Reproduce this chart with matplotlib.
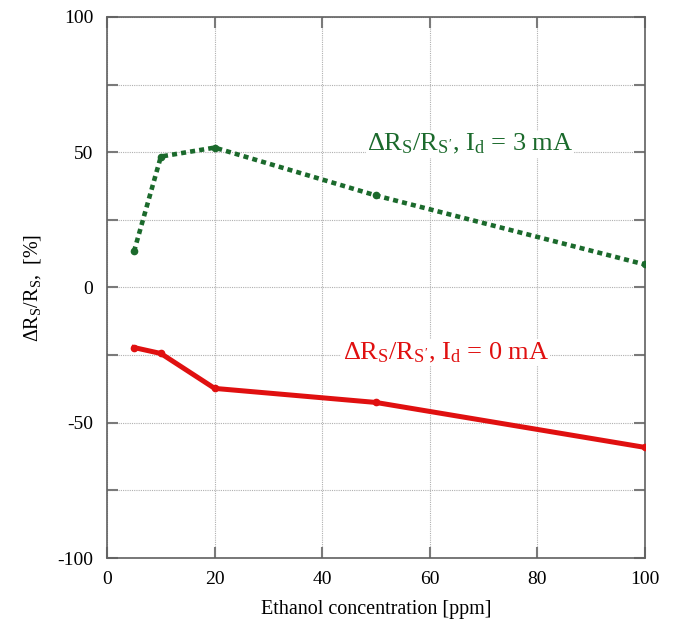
import matplotlib.pyplot as plt
from matplotlib.ticker import FuncFormatter
import numpy as np

# ethanol concentration (ppm) and relative resistance change (%)
conc = [5, 10, 20, 50, 100]
drs_3ma = [13.3, 48.4, 51.7, 34.0, 8.5]
drs_0ma = [-22.2, -24.4, -37.3, -42.5, -59.1]

plt.rcParams['font.family'] = ['Liberation Serif', 'DejaVu Serif']
plt.rcParams['mathtext.fontset'] = 'custom'
plt.rcParams['mathtext.rm'] = 'Liberation Serif'
plt.rcParams['mathtext.it'] = 'Liberation Serif:italic'
plt.rcParams['axes.unicode_minus'] = False

fig = plt.figure(figsize=(6.78, 6.27), dpi=100)
ax = fig.add_axes([0.158, 0.110, 0.793, 0.863])

green = '#1b6a2c'
red = '#e01010'

ax.plot(conc, drs_3ma, color=green, lw=3.3, linestyle=(0, (1.1, 0.9)),
        marker='o', markersize=4.5, zorder=3)
ax.plot(conc, drs_0ma, color=red, lw=3.6, marker='o', markersize=4.5,
        zorder=3)

ax.text(67.5, 53, r"$\Delta$R$_{\mathrm{S}}$/R$_{\mathrm{S'}}$, I$_{\mathrm{d}}$ = 3 mA",
        color=green, fontsize=19, ha='center', va='center',
        bbox=dict(facecolor='white', edgecolor='none', pad=1))
ax.text(63, -24, r"$\Delta$R$_{\mathrm{S}}$/R$_{\mathrm{S'}}$, I$_{\mathrm{d}}$ = 0 mA",
        color=red, fontsize=19, ha='center', va='center',
        bbox=dict(facecolor='white', edgecolor='none', pad=1))

ax.set_xlim(0, 100)
ax.set_ylim(-100, 100)
ax.set_xticks(np.arange(0, 101, 20))
ax.set_yticks(np.arange(-100, 101, 25))
ax.yaxis.set_major_formatter(
    FuncFormatter(lambda v, p: '%d' % v if v % 50 == 0 else ''))
ax.grid(True, color='#b0b0b0', linestyle=(0, (1, 1)), lw=0.8)
ax.set_axisbelow(True)

ax.tick_params(direction='in', top=True, right=True, color='#7a7a7a',
               labelsize=14, length=8, width=1.5)
ax.tick_params(axis='y', pad=10)
ax.tick_params(axis='x', pad=9)
for s in ax.spines.values():
    s.set_color('#606060')
    s.set_linewidth(1.2)

ax.set_xlabel('Ethanol concentration [ppm]', fontsize=14.5, labelpad=9)
ax.set_ylabel(r"$\Delta$R$_{\mathrm{S}}$/R$_{\mathrm{S}}$,  [%]", fontsize=14.5,
              labelpad=10)

plt.savefig('out.png')
